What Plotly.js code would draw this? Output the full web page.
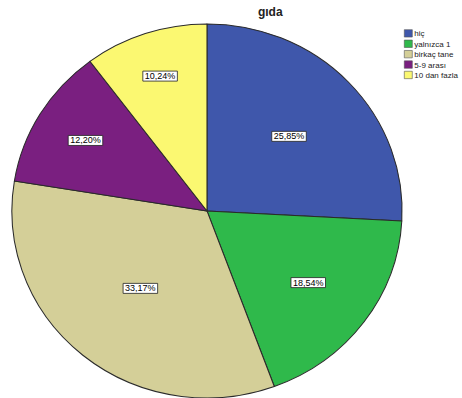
<!DOCTYPE html>
<html>
<head>
<meta charset="utf-8">
<script src="https://cdn.plot.ly/plotly-3.0.1.min.js"></script>
<style>html,body{margin:0;padding:0;background:#fff;}#chart{width:462px;height:398px;}</style>
</head>
<body>
<div id="chart"></div>
<script>
const categories = ["hiç", "yalnızca 1", "birkaç tane", "5-9 arası", "10 dan fazla"];
const values = [25.85, 18.54, 33.17, 12.20, 10.24];
const colors = ["#3f57ab", "#2fb94b", "#d4cf98", "#7a1f80", "#fbf871"];
const chartTitle = "gıda";

const trace = {
  type: "pie",
  labels: categories,
  values: values,
  sort: false,
  direction: "clockwise",
  rotation: 0,
  marker: {colors: colors, line: {color: "#2a2a2a", width: 1}},
  texttemplate: "%{value:.2f}%",
  textposition: "inside",
  insidetextorientation: "horizontal",
  textfont: {family: "Liberation Sans, Arial, sans-serif", size: 9, color: "#000"},
  hoverinfo: "none",
  domain: {x: [0.032, 0.864], y: [0, 0.94]}
};

const layout = {
  width: 462, height: 398,
  margin: {l: 0, r: 0, t: 0, b: 0, pad: 0, autoexpand: false},
  separators: ", ",
  paper_bgcolor: "#fff",
  title: {text: "<b>" + chartTitle + "</b>", font: {family: "Liberation Sans, Arial, sans-serif", size: 12, color: "#222"}, x: 0.585, xanchor: "center", y: 0.97, yanchor: "middle", automargin: false},
  showlegend: true,
  legend: {x: 0.8405, y: 0.935, xanchor: "left", yanchor: "top", font: {family: "Liberation Sans, Arial, sans-serif", size: 8, color: "#222"}, itemwidth: 30, tracegroupgap: 0, bgcolor: "rgba(0,0,0,0)"}
};

Plotly.newPlot("chart", [trace], layout, {staticPlot: true}).then(function(gd){
  const svgNS = "http://www.w3.org/2000/svg";
  // slightly wider-than-tall pie, like the reference rendering
  const sx = 1.043;
  const paths = gd.querySelectorAll("g.slice path.surface");
  let minX = Infinity, maxX = -Infinity;
  paths.forEach(function(p){
    const b = p.getBBox();
    minX = Math.min(minX, b.x); maxX = Math.max(maxX, b.x + b.width);
  });
  const cx = (minX + maxX) / 2;
  paths.forEach(function(p){
    p.setAttribute("transform", "translate(" + cx + ",0) scale(" + sx + ",1) translate(" + (-cx) + ",0)");
  });
  let sMin = Infinity, sMax = -Infinity;
  paths.forEach(function(p){
    const r = p.getBoundingClientRect();
    sMin = Math.min(sMin, r.left); sMax = Math.max(sMax, r.right);
  });
  const scx = (sMin + sMax) / 2;
  gd.querySelectorAll("g.slicetext").forEach(function(g){
    const t = g.querySelector("text");
    if (!t) return;
    const rb = t.getBoundingClientRect();
    const dx = ((rb.left + rb.right) / 2 - scx) * (sx - 1);
    const bb = t.getBBox();
    const r = document.createElementNS(svgNS, "rect");
    r.setAttribute("x", bb.x - 2);
    r.setAttribute("y", bb.y);
    r.setAttribute("width", bb.width + 4);
    r.setAttribute("height", bb.height);
    r.setAttribute("fill", "#fff");
    r.setAttribute("stroke", "#222");
    r.setAttribute("stroke-width", "0.8");
    const tr = t.getAttribute("transform");
    if (tr) r.setAttribute("transform", tr);
    t.parentNode.insertBefore(r, t);
    g.setAttribute("transform", "translate(" + dx + ",0)");
  });
  // compact legend rows like the reference
  const items = gd.querySelectorAll("g.legend g.traces");
  items.forEach(function(g, i){
    const m = /translate\(([-\d.]+)[ ,]*([-\d.]+)?\)/.exec(g.getAttribute("transform") || "");
    const tx = m ? parseFloat(m[1]) : 0;
    g.setAttribute("transform", "translate(" + tx + "," + (7.5 + i * 10.4) + ")");
    g.querySelectorAll("path.legendpie").forEach(function(p){
      p.setAttribute("d", "M4,3.7H-4V-3.7H4Z");
      p.style.strokeWidth = "0.6px";
      p.style.stroke = "#555";
    });
    const txt = g.querySelector("text.legendtext");
    if (txt) txt.setAttribute("x", 26);
  });
});
</script>
</body>
</html>
